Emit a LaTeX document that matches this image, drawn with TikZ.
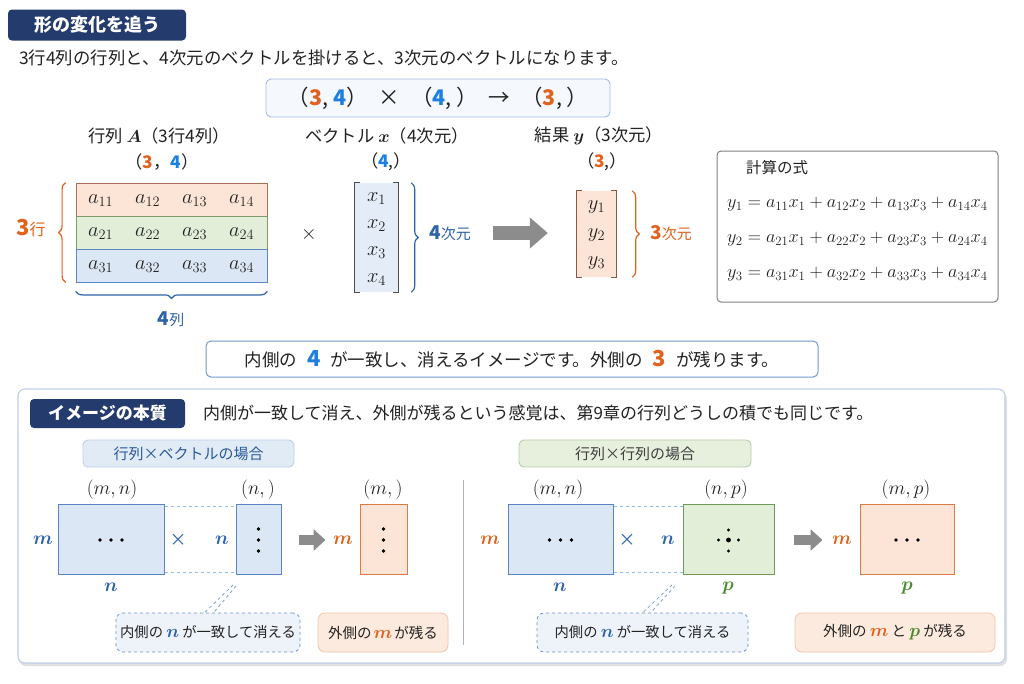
\RequirePackage{fix-cm}
\documentclass[tikz,border=0pt]{standalone}
\usepackage{amsmath}
\usepackage{bm}
\usepackage[no-math]{fontspec}
\setmainfont{Noto Sans CJK JP}
\usetikzlibrary{arrows.meta,decorations.pathreplacing,calc}

\definecolor{navy}{HTML}{243B6E}
\definecolor{orng}{HTML}{E0621C}
\definecolor{bblue}{HTML}{1E7FE0}
\definecolor{mblue}{HTML}{2E63A8}
\definecolor{grn}{HTML}{4A8A2E}
\definecolor{txt}{HTML}{222222}
\definecolor{blfill}{HTML}{DCE7F5}
\definecolor{bldraw}{HTML}{5A86C5}
\definecolor{orfill}{HTML}{FCE5D6}
\definecolor{ordraw}{HTML}{E07A45}
\definecolor{grfill}{HTML}{E3EED9}
\definecolor{grdraw}{HTML}{6E9A55}
\definecolor{rowordr}{HTML}{A8705A}
\definecolor{rowgrdr}{HTML}{7C9A6A}
\definecolor{rowbldr}{HTML}{5F87C3}
\definecolor{arrgray}{HTML}{8C8C8C}
\definecolor{dashblue}{HTML}{8EC1EA}
\definecolor{HTMLeef}{HTML}{EEF3FA}

\newcommand{\onum}[1]{\textcolor{orng}{\bfseries #1}}
\newcommand{\bnum}[1]{\textcolor{bblue}{\bfseries #1}}
\newcommand{\fs}[1]{\fontsize{#1}{#1}\selectfont}

\tikzset{
  badge/.style={fill=navy, text=white, rounded corners=4pt, inner sep=0pt, font=\fs{18}\bfseries},
  plainbox/.style={inner sep=0pt, rounded corners=5pt},
  cell/.style={inner sep=0pt, minimum width=191pt, minimum height=33pt, line width=0.8pt},
  ent/.style={inner sep=0pt, font=\fs{20.5}},
  brk/.style={draw=black!70, line width=1pt},
  bracedeco/.style={decorate, line width=1.2pt, decoration={brace, amplitude=7pt}},
  bigarr/.style={draw=arrgray, line width=14pt, -{Triangle[length=18pt, width=30pt]}},
  smarr/.style={draw=arrgray, line width=10pt, -{Triangle[length=12pt, width=21pt]}},
  shape box/.style={inner sep=0pt, minimum height=70pt, line width=1pt},
  conn/.style={draw=dashblue, dashed, line width=0.9pt},
  tail/.style={draw=bldraw!80, dashed, line width=0.8pt},
  callb/.style={fill=HTMLeef, draw=bldraw!90, dashed, rounded corners=7pt, line width=0.8pt, minimum height=39pt, inner sep=0pt, font=\fs{14.3}},
  callo/.style={fill=orfill!80, draw=ordraw!45, rounded corners=7pt, line width=0.8pt, minimum height=39pt, inner sep=0pt, font=\fs{14.5}},
  lab/.style={inner sep=0pt, font=\fs{15}},
  mlab/.style={inner sep=0pt, font=\fs{19.5}},
  blab/.style={inner sep=0pt, font=\fs{19}},
  eqn/.style={anchor=west, inner sep=0pt, font=\fs{18.3}},
  dot/.style={fill=black, draw=none},
}

\begin{document}
\begin{tikzpicture}[x=1pt, y=-1pt, text=txt, font=\fs{15}]
\fill[white] (0,0) rectangle (1024,683);
\useasboundingbox (0,0) rectangle (1024,683);

% ---------- top section ----------
\node[badge, minimum width=178pt, minimum height=31pt] (title) at (97,25) {形の変化を追う};
\node[anchor=west, inner sep=0pt, font=\fs{17.4}] (sub) at (19,58)
  {3行4列の行列と、4次元のベクトルを掛けると、3次元のベクトルになります。};

\node[plainbox, fill=HTMLeef!60, draw=bldraw!55, line width=0.9pt, minimum width=344pt, minimum height=38pt, font=\fs{21.5}] (formula) at (438,98)
  {（\onum{3}, \bnum{4}）\hspace{11pt}×\hspace{11pt}（\bnum{4}, ）\hspace{11pt}→\hspace{11pt}（\onum{3}, ）};

% headers
\node[lab, font=\fs{17.3}] (hA) at (159,136) {行列 $\bm{A}$（3行4列）};
\node[lab, font=\fs{17.3}] (hA2) at (162,162) {（\onum{3}，\bnum{4}）};
\node[lab, font=\fs{17.3}] (hx) at (387,136) {ベクトル $\bm{x}$（4次元）};
\node[lab, font=\fs{17.3}] (hx2) at (386,162) {（\bnum{4},）};
\node[lab, font=\fs{17.3}] (hy) at (599,136) {結果 $\bm{y}$（3次元）};
\node[lab, font=\fs{17.3}] (hy2) at (602,162) {（\onum{3},）};

% matrix A
\node[cell, fill=orfill, draw=rowordr] (row1) at (171.5,199.5) {};
\node[cell, fill=grfill, draw=rowgrdr] (row2) at (171.5,232.5) {};
\node[cell, fill=blfill, draw=rowbldr] (row3) at (171.5,265.5) {};
\foreach \r in {1,2,3}{
  \foreach \c/\xo in {1/25,2/72,3/119,4/166}{
    \node[ent] (a\r\c) at ($(row\r.west)+(\xo,1)$) {$a_{\r\c}$};
  }
}
\draw[bracedeco, draw=orng] ([xshift=-10pt]row3.south west) -- ([xshift=-10pt]row1.north west);
\node[inner sep=0pt, text=orng] (l3) at (31,228) {\fs{22}\bfseries 3\fs{16}\mdseries 行};
\draw[bracedeco, draw=mblue] ([yshift=-9pt]row3.south east) -- ([yshift=-9pt]row3.south west);
\node[inner sep=0pt, text=mblue] (l4col) at (171,319) {\fs{19}\bfseries 4\fs{15}\mdseries 列};

\node[inner sep=0pt] (times1) at (309,234) {\fs{20}$\times$};

% vector x
\node[inner sep=0pt, fill=blfill!80, minimum width=43pt, minimum height=109pt] (xv) at (376.5,237.5) {};
\draw[brk] ($(xv.north west)+(5,0)$) -- (xv.north west) -- (xv.south west) -- ++(5,0);
\draw[brk] ($(xv.north east)+(-5,0)$) -- (xv.north east) -- (xv.south east) -- ++(-5,0);
\foreach \i/\yy in {1/199,2/226,3/253,4/280}{
  \node[ent] (x\i) at (376.5,\yy) {$x_{\i}$};
}
\draw[bracedeco, draw=mblue] ([xshift=13pt]xv.north east) -- ([xshift=13pt]xv.south east);
\node[inner sep=0pt, text=mblue] (lbl4) at (450,233) {\fs{19}\bfseries 4\fs{15}\mdseries 次元};

% vector y
\node[inner sep=0pt, fill=orfill, minimum width=39pt, minimum height=86pt] (yv) at (596.5,234) {};
\draw[brk, draw=rowordr!80!black] ($(yv.north west)+(5,0)$) -- (yv.north west) -- (yv.south west) -- ++(5,0);
\draw[brk, draw=rowordr!80!black] ($(yv.north east)+(-5,0)$) -- (yv.north east) -- (yv.south east) -- ++(-5,0);
\foreach \i/\yy in {1/207,2/235,3/263}{
  \node[ent] (y\i) at (596.5,\yy) {$y_{\i}$};
}
\draw[bracedeco, draw=orng] ([xshift=16pt]yv.north east) -- ([xshift=16pt]yv.south east);
\node[inner sep=0pt, text=orng] (lbl3) at (671,233) {\fs{19}\bfseries 3\fs{15}\mdseries 次元};

\draw[bigarr] ($(lbl4.east)+(22,0)$) -- ($(lbl4.east -| yv.west)+(-29,0)$);

% formula box
\node[plainbox, draw=black!50, line width=1pt, rounded corners=4pt, minimum width=281pt, minimum height=151pt] (calc) at (857.5,226.5) {};
\node[lab, font=\fs{15.5}] (calct) at (777,168) {計算の式};
\node[eqn] (eq1) at (727,204) {$y_1 = a_{11}x_1 + a_{12}x_2 + a_{13}x_3 + a_{14}x_4$};
\node[eqn] (eq2) at (727,239) {$y_2 = a_{21}x_1 + a_{22}x_2 + a_{23}x_3 + a_{24}x_4$};
\node[eqn] (eq3) at (727,274) {$y_3 = a_{31}x_1 + a_{32}x_2 + a_{33}x_3 + a_{34}x_4$};

% middle message
\node[plainbox, fill=white, draw=bldraw!85, line width=1pt, minimum width=612pt, minimum height=36pt, font=\fs{17.5}] (msg) at (512,359)
  {内側の\hspace{10pt}\bnum{\fs{22}4}\hspace{10pt}が一致し、消えるイメージです。外側の\hspace{10pt}\onum{\fs{22}3}\hspace{10pt}が残ります。};

% ---------- bottom panel ----------
\fill[black!12, rounded corners=7pt] (19,392) rectangle (1007,666);
\node[plainbox, rounded corners=7pt, fill=white, draw=bldraw!40, line width=1.1pt, minimum width=987pt, minimum height=274pt] (panel) at (511.5,526) {};
\node[badge, minimum width=155pt, minimum height=29pt, font=\fs{17}\bfseries] (badge2) at (107.5,413.5) {イメージの本質};
\node[anchor=west, inner sep=0pt, font=\fs{17}] (ptext) at (203,413)
  {内側が一致して消え、外側が残るという感覚は、第9章の行列どうしの積でも同じです。};

\node[plainbox, fill=blfill!85, draw=bldraw!40, line width=0.9pt, minimum width=211pt, minimum height=27pt, text=mblue!90!black, font=\fs{15}] (sbL) at (188.5,453.5) {行列×ベクトルの場合};
\node[plainbox, fill=grfill!90, draw=grdraw!50, line width=0.9pt, minimum width=232pt, minimum height=27pt, text=black!75, font=\fs{15}] (sbR) at (635,453.5) {行列×行列の場合};

\draw[black!30, line width=1pt] (463,480) -- (463,645);

% left diagram
\node[shape box, fill=blfill, draw=bldraw, minimum width=106pt] (LB) at (111,539) {};
\node[shape box, fill=blfill, draw=bldraw, minimum width=45pt] (LV) at (258.5,539) {};
\node[shape box, fill=orfill, draw=ordraw, minimum width=47pt] (LO) at (383.5,539) {};
\draw[conn] ([yshift=-3pt]LB.north east) -- ([yshift=-3pt]LV.north west);
\draw[conn] ([yshift=2pt]LB.south east) -- ([yshift=2pt]LV.south west);
\foreach \dx in {-11,0,11}{\fill[dot] ($(LB.center)+(\dx,1)$) circle (1.9pt);}
\foreach \dy in {-10,1,12}{\fill[dot] ($(LV.center)+(0,\dy)$) circle (1.9pt);}
\foreach \dy in {-10,1,12}{\fill[dot] ($(LO.center)+(0,\dy)$) circle (1.9pt);}
\node[mlab] (Lmn) at (112,490) {$(m,n)$};
\node[mlab] (Ln) at (258,490) {$(n,)$};
\node[mlab] (Lm) at (383,490) {$(m,)$};
\node[blab, text=mblue] (Lm1) at (43,540) {$\bm{m}$};
\node[blab, text=mblue] (Ln1) at (111,587) {$\bm{n}$};
\node[blab, text=mblue] (Lx) at (178,540) {$\bm{\times}$};
\node[blab, text=mblue] (Ln2) at (222,540) {$\bm{n}$};
\node[blab, text=orng] (Lm2) at (343,540) {$\bm{m}$};
\draw[smarr] ($(LV.east)+(17,1)$) -- ($(LV.east)+(44,1)$);

\node[callb, minimum width=184pt] (CL) at (208,632.5) {内側の\ \textcolor{mblue}{\fs{18}$\bm{n}$}\ が一致して消える};
\coordinate (tipL) at (233,585);
\draw[tail] (tipL) -- ($(CL.north west)+(89,0)$);
\draw[tail] ($(tipL)+(3,1)$) -- ($(CL.north west)+(98,0)$);
\node[callo, minimum width=130pt] (OL) at (383,632.5) {外側の\hspace{2pt}\textcolor{orng}{\fs{18}$\bm{m}$}\hspace{2pt}が残る};

% right diagram
\node[shape box, fill=blfill, draw=bldraw, minimum width=105pt] (RB) at (560.5,539) {};
\node[shape box, fill=grfill, draw=grdraw, minimum width=91pt] (RG) at (728.5,539) {};
\node[shape box, fill=orfill, draw=ordraw, minimum width=94pt] (RO) at (907,539) {};
\draw[conn] ([yshift=-3pt]RB.north east) -- ([yshift=-3pt]RG.north west);
\draw[conn] ([yshift=2pt]RB.south east) -- ([yshift=2pt]RG.south west);
\foreach \dx in {-11,0,11}{\fill[dot] ($(RB.center)+(\dx,1)$) circle (1.9pt);}
\foreach \dx in {-11,0,11}{\fill[dot] ($(RO.center)+(\dx,1)$) circle (1.9pt);}
\fill[dot] ($(RG.center)+(0,1)$) circle (2.4pt);
\foreach \dx/\dy in {-10/1,10/1,0/-9,0/12}{\fill[dot] ($(RG.center)+(\dx,\dy)$) circle (1.7pt);}
\node[mlab] (Rmn) at (558,490) {$(m,n)$};
\node[mlab] (Rnp) at (726,490) {$(n,p)$};
\node[mlab] (Rmp) at (906,490) {$(m,p)$};
\node[blab, text=orng] (Rm1) at (490,540) {$\bm{m}$};
\node[blab, text=mblue] (Rx) at (627,540) {$\bm{\times}$};
\node[blab, text=mblue] (Rn2) at (668,540) {$\bm{n}$};
\node[blab, text=mblue] (Rn1) at (560,587) {$\bm{n}$};
\node[blab, text=grn] (Rp1) at (728,588) {$\bm{p}$};
\node[blab, text=orng] (Rm2) at (842,540) {$\bm{m}$};
\node[blab, text=grn] (Rp2) at (907,588) {$\bm{p}$};
\draw[smarr] ($(RG.east)+(19,1)$) -- ($(RG.east)+(48,1)$);

\node[callb, minimum width=211pt] (CR) at (642.5,632.5) {内側の\ \textcolor{mblue}{\fs{18}$\bm{n}$}\ が一致して消える};
\coordinate (tipR) at (672,585);
\draw[tail] (tipR) -- ($(CR.north west)+(106,0)$);
\draw[tail] ($(tipR)+(3,1)$) -- ($(CR.north west)+(114,0)$);
\node[callo, minimum width=200pt] (OR) at (895,632.5) {外側の\ \textcolor{orng}{\fs{18}$\bm{m}$}\ と\ \textcolor{grn}{\fs{18}$\bm{p}$}\ が残る};
\end{tikzpicture}
\end{document}
